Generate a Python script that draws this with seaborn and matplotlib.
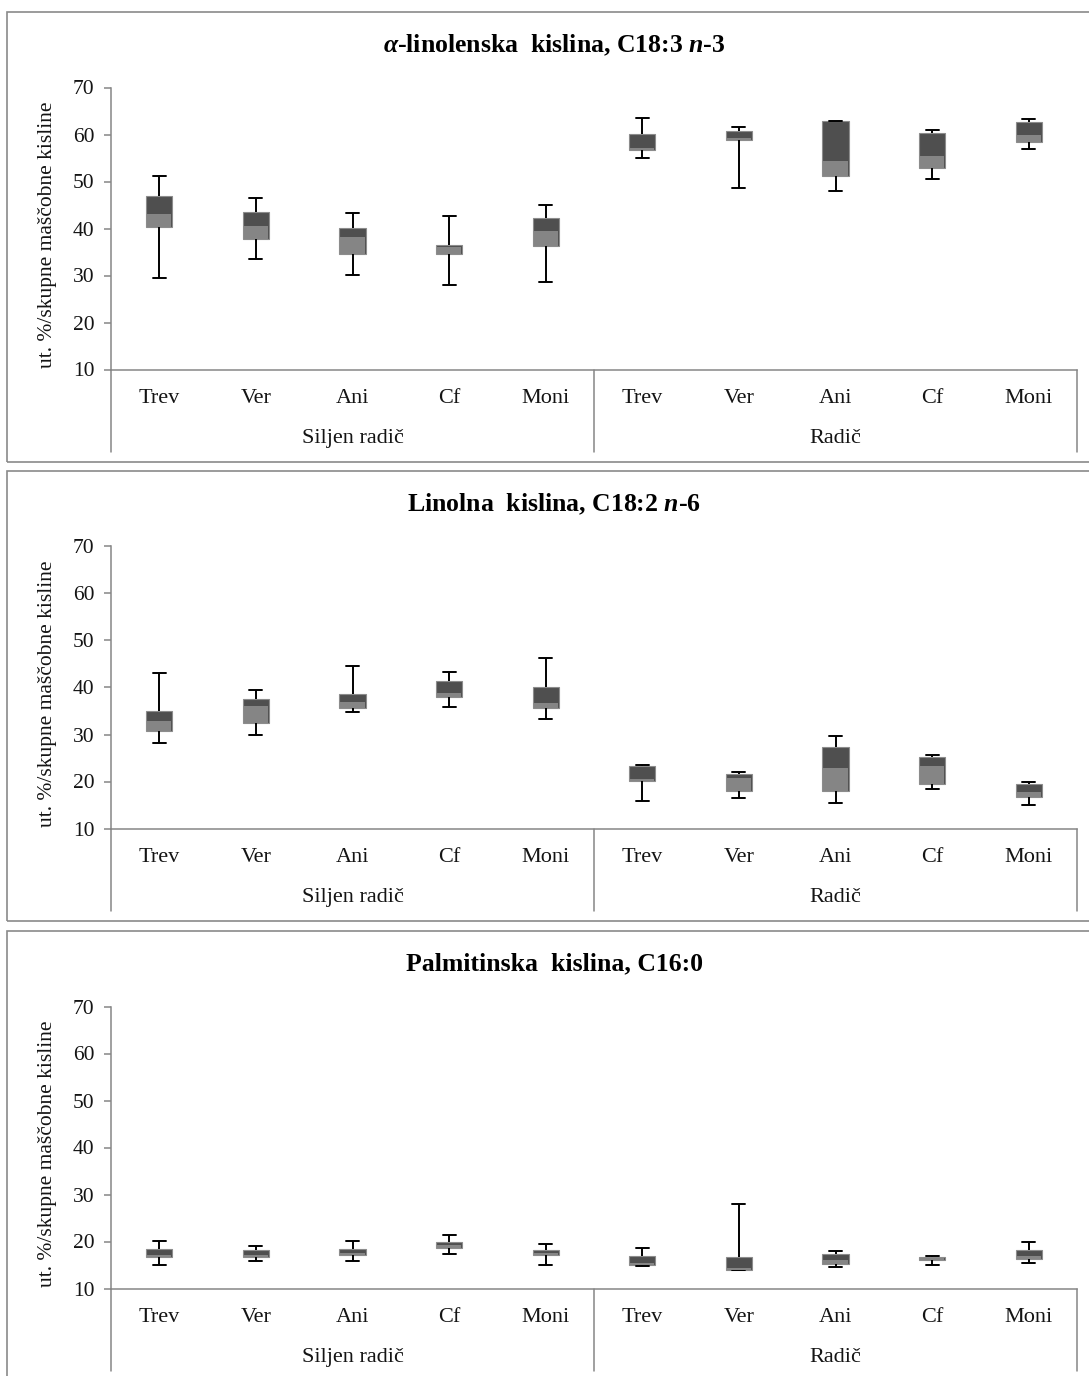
import numpy as np
import pandas as pd
import matplotlib
matplotlib.use("Agg")
import matplotlib.pyplot as plt
import matplotlib.transforms as mtransforms
from matplotlib.patches import Rectangle
import seaborn as sns

# ---------------- data ----------------
groups = ["Siljen radič", "Radič"]
cultivars = ["Trev", "Ver", "Ani", "Cf", "Moni"]
titles = [r"$\alpha$-linolenska  kislina, C18:3 $n$-3",
          r"Linolna  kislina, C18:2 $n$-6",
          "Palmitinska  kislina, C16:0"]
ylabel = "ut. %/skupne maščobne kisline"
yticks = [10, 20, 30, 40, 50, 60, 70]

# alpha-linolenic acid (C18:3 n-3)
ala_min = [29.5, 33.5, 30.2, 28.0, 28.7, 54.9, 48.7, 48.0, 50.5, 57.0]
ala_q1  = [40.4, 37.7, 34.5, 34.5, 36.3, 56.6, 58.8, 51.2, 52.9, 58.5]
ala_med = [43.1, 40.6, 38.1, 36.0, 39.5, 57.1, 59.3, 54.4, 55.4, 59.8]
ala_q3  = [46.9, 43.6, 40.1, 36.5, 42.3, 60.1, 60.8, 62.9, 60.4, 62.7]
ala_max = [51.2, 46.5, 43.3, 42.6, 45.1, 63.6, 61.5, 62.9, 61.0, 63.3]

# linoleic acid (C18:2 n-6)
la_min = [28.2, 30.0, 34.7, 35.8, 33.3, 15.8, 16.5, 15.4, 18.4, 15.0]
la_q1  = [30.7, 32.5, 35.7, 38.0, 35.7, 20.2, 18.0, 18.0, 19.4, 16.6]
la_med = [32.8, 36.0, 37.0, 38.9, 36.6, 20.6, 20.8, 22.8, 23.2, 17.8]
la_q3  = [35.1, 37.6, 38.7, 41.3, 40.2, 23.3, 21.6, 27.4, 25.3, 19.5]
la_max = [43.0, 39.4, 44.5, 43.4, 46.3, 23.5, 22.0, 29.6, 25.7, 19.9]

# palmitic acid (C16:0)
pa_min = [15.1, 15.8, 15.8, 17.3, 15.1, 14.7, 14.0, 14.6, 15.1, 15.4]
pa_q1  = [16.7, 16.8, 17.1, 18.6, 17.1, 14.9, 14.0, 15.3, 16.1, 16.3]
pa_med = [17.2, 17.2, 17.6, 19.2, 17.5, 15.5, 14.4, 16.1, 16.4, 17.0]
pa_q3  = [18.4, 18.1, 18.4, 19.9, 18.1, 17.0, 16.6, 17.4, 16.6, 18.1]
pa_max = [20.1, 19.1, 20.1, 21.4, 19.5, 18.7, 27.9, 17.9, 16.9, 19.9]

panels = [
    (titles[0], ala_min, ala_q1, ala_med, ala_q3, ala_max),
    (titles[1], la_min, la_q1, la_med, la_q3, la_max),
    (titles[2], pa_min, pa_q1, pa_med, pa_q3, pa_max),
]

# ---------------- style ----------------
sns.set_style("white")
plt.rcParams["font.family"] = ["Liberation Serif", "DejaVu Serif"]
plt.rcParams["mathtext.fontset"] = "custom"
plt.rcParams["mathtext.rm"] = "Liberation Serif:bold"
plt.rcParams["mathtext.bf"] = "Liberation Serif:bold"
plt.rcParams["mathtext.it"] = "Liberation Serif:italic:bold"

DARK = "#4f4f4f"
LIGHT = "#858585"
EDGE = "#8c8c8c"
SPINE = "#868686"
FRAME = "#8a8a8a"
TXT = "#141414"

W, H = 1089, 1376
fig = plt.figure(figsize=(W / 100, H / 100), dpi=100)
fig.patch.set_facecolor("white")


def rect(x0, y0, x1, y1):
    return [x0 / W, 1 - y1 / H, (x1 - x0) / W, (y1 - y0) / H]


offsets = [0, 459, 919]
keys = [f"{g}|{c}" for g in groups for c in cultivars]
names = cultivars * 2

for i, (title, mins, q1, med, q3, maxs) in enumerate(panels):
    off = offsets[i]
    # chart-area frame
    fig.patches.append(Rectangle((7 / W, 1 - (462 + off) / H), (1120 - 7) / W, 450 / H,
                                 transform=fig.transFigure, fill=False,
                                 edgecolor=FRAME, linewidth=1.2))
    ax = fig.add_axes(rect(111, 87.5 + off, 1077, 369.5 + off))

    df = pd.DataFrame({
        "key": np.repeat(keys, 5),
        "value": np.column_stack([mins, q1, med, q3, maxs]).ravel(),
    })
    sns.boxplot(data=df, x="key", y="value", order=keys, width=0.27,
                whis=(0, 100), fliersize=0, color=DARK, linecolor="black",
                linewidth=1.4, saturation=1,
                boxprops=dict(edgecolor=EDGE, linewidth=0.8),
                medianprops=dict(linewidth=0), ax=ax)

    seg = pd.DataFrame({"key": keys, "h": np.array(med) - np.array(q1)})
    sns.barplot(data=seg, x="key", y="h", order=keys, bottom=q1, width=0.25,
                color=LIGHT, saturation=1, errorbar=None, linewidth=0,
                edgecolor="none", zorder=3, ax=ax)

    ax.set_xlim(-0.5, 9.5)
    ax.set_ylim(10, 70)
    ax.set_yticks(yticks)
    ax.set_xticks(range(10))
    ax.set_xticklabels(names)
    ax.tick_params(axis="x", length=0, pad=14, labelsize=16, labelcolor=TXT)
    ax.tick_params(axis="y", length=5, width=1.1, color=SPINE, pad=7,
                   labelsize=15.5, labelcolor=TXT, direction="out", left=True)
    for s in ["top", "right"]:
        ax.spines[s].set_visible(False)
    for s in ["left", "bottom"]:
        ax.spines[s].set_color(SPINE)
        ax.spines[s].set_linewidth(1.1)
    ax.set_xlabel("")
    ax.set_ylabel(ylabel, fontsize=15.5, color=TXT)
    ax.yaxis.label.set_va("center")
    ax.yaxis.label.set_ha("center")
    ax.yaxis.set_label_coords((48 - 111) / 966, (369.5 - 235) / 282)
    ax.grid(False)

    trans = mtransforms.blended_transform_factory(ax.transData, ax.transAxes)
    for g, xc in zip(groups, [2, 7]):
        ax.text(xc, -69 / 282, g, transform=trans, ha="center", va="center",
                fontsize=16, color=TXT)
    for xs in [-0.5, 4.5, 9.5]:
        ax.plot([xs, xs], [0, -82 / 282], transform=trans, color=SPINE,
                lw=1.1, clip_on=False)

    fig.text(554 / W, 1 - (45 + off) / H, title, ha="center", va="center",
             fontsize=18.5, fontweight="bold", color="black")

fig.savefig("out.png", dpi=100)
